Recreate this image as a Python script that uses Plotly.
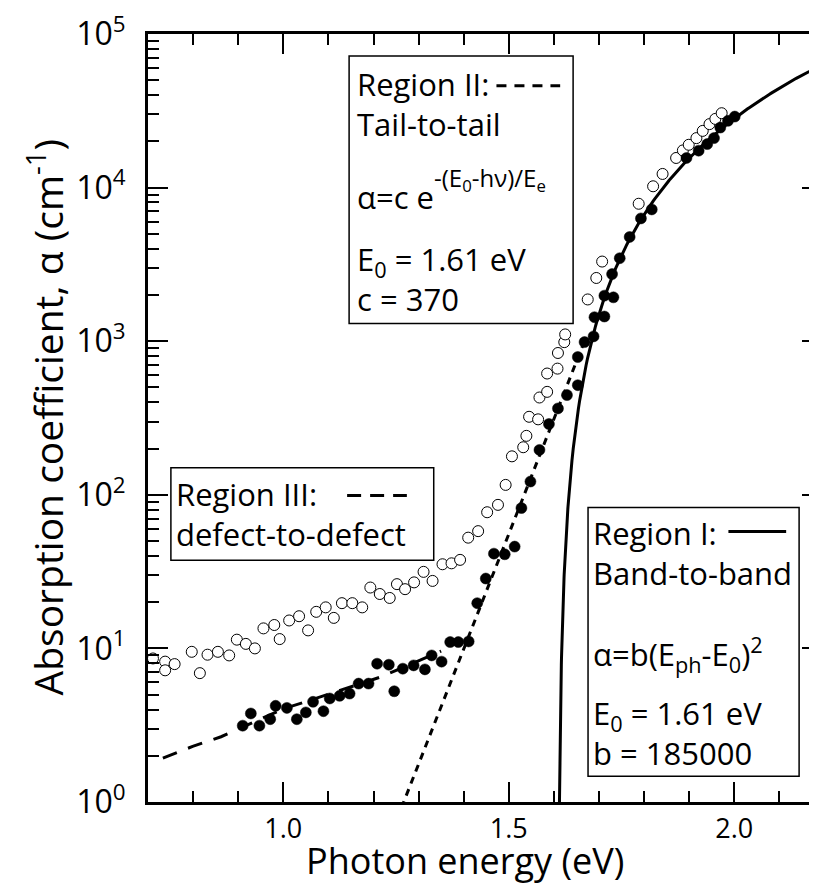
import numpy as np
import plotly.graph_objects as go

# ---------------- data ----------------
open_energy = [0.711, 0.738, 0.738, 0.759, 0.797, 0.815, 0.832, 0.855, 0.880, 0.897,
               0.917, 0.937, 0.956, 0.980, 0.992, 1.013, 1.035, 1.055, 1.073, 1.094,
               1.112, 1.130, 1.153, 1.175, 1.193, 1.214, 1.236, 1.252, 1.270, 1.290,
               1.311, 1.331, 1.353, 1.373, 1.392, 1.410, 1.432, 1.452, 1.476, 1.493,
               1.507, 1.532, 1.539, 1.545, 1.565, 1.568, 1.585, 1.585, 1.608, 1.609,
               1.623, 1.625, 1.675, 1.694, 1.707, 1.788, 1.820, 1.841, 1.871, 1.886,
               1.899, 1.916, 1.930, 1.945, 1.958, 1.972]
open_alpha = [8.6, 8.2, 7.2, 7.9, 9.5, 6.9, 9.1, 9.5, 9.0, 11.4,
              10.7, 10.0, 13.5, 14.2, 11.5, 15.2, 16.2, 13.1, 17.3, 18.5,
              15.8, 19.7, 19.7, 18.5, 24.9, 22.6, 21.3, 26.2, 24.3, 26.9,
              31.5, 27.5, 35.3, 35.8, 37.7, 52.6, 58, 77, 86, 116,
              178, 204, 242, 322, 310, 430, 468, 616, 663, 838,
              986, 1107, 1870, 2580, 3300, 7850, 10200, 12270, 15590, 17460,
              19000, 21000, 23400, 25900, 28000, 30500]

filled_energy = [0.910, 0.928, 0.947, 0.971, 0.983, 1.008, 1.030, 1.050, 1.066, 1.089,
                 1.103, 1.125, 1.147, 1.167, 1.189, 1.208, 1.234, 1.246, 1.265, 1.289,
                 1.314, 1.329, 1.351, 1.370, 1.388, 1.411, 1.430, 1.449, 1.467, 1.491,
                 1.513, 1.528, 1.548, 1.568, 1.589, 1.609, 1.629, 1.653, 1.653, 1.668,
                 1.688, 1.690, 1.712, 1.712, 1.732, 1.729, 1.746, 1.768, 1.793, 1.817,
                 1.894, 1.921, 1.940, 1.955, 1.969, 1.986, 2.001]
filled_alpha = [3.14, 3.77, 3.14, 3.46, 4.23, 4.10, 3.46, 3.83, 4.49, 3.90,
                4.72, 4.91, 5.08, 5.90, 5.90, 7.95, 7.83, 5.26, 7.38, 7.75,
                7.30, 9.0, 8.2, 11.0, 11.0, 11.1, 19.7, 28.5, 41.4, 41,
                46, 82, 122, 196, 289, 365, 446, 517, 789, 987,
                1075, 1433, 1448, 1980, 1930, 2735, 3470, 4770, 6300, 7210,
                15590, 17400, 19200, 21000, 24600, 27200, 29000]

# Region III (defect-to-defect) dashed guide
defect_energy = [0.733, 0.799, 0.862, 1.002, 1.060, 1.127, 1.215, 1.350]
defect_alpha = [1.93, 2.30, 2.66, 4.06, 4.60, 5.34, 6.50, 9.6]

# model parameters printed on the chart
E0 = 1.61
b_coef = 185000.0
c_coef = 370.0
Ee = 0.058

x_tick_vals = [1.0, 1.5, 2.0]
x_tick_text = ["1.0", "1.5", "2.0"]
y_tick_vals = [1, 10, 100, 1000, 10000, 100000]
y_tick_text = ["10<sup>%d</sup>" % k for k in range(6)]
x_title = "Photon energy (eV)"
y_title = "Absorption coefficient, α (cm<sup>-1</sup>)"

# ---------------- model curves ----------------
E_band = E0 + np.concatenate([np.linspace(0.0023, 0.03, 80), np.linspace(0.03, 0.6, 200)])
alpha_band = b_coef * (E_band - E0) ** 2
E_tail = np.linspace(1.262, 1.67, 120)
alpha_tail = c_coef * np.exp(-(E0 - E_tail) / Ee)

# ---------------- layout geometry ----------------
W, H = 817, 887
L, R, T, B = 140, 0, 22, 93
PW, PH = W - L - R, H - T - B
FONT = "Open Sans"
BOX_FONT = 31


def px(xp):
    return (xp - L) / PW


def py(yp):
    return (H - B - yp) / PH


fig = go.Figure()
fig.add_trace(go.Scatter(x=E_band, y=alpha_band, mode="lines",
                         line=dict(color="black", width=3), showlegend=False))
fig.add_trace(go.Scatter(x=E_tail, y=alpha_tail, mode="lines",
                         line=dict(color="black", width=3, dash="7px,6px"), showlegend=False))
fig.add_trace(go.Scatter(x=defect_energy, y=defect_alpha, mode="lines",
                         line=dict(color="black", width=3, dash="15px,12px"), showlegend=False))
fig.add_trace(go.Scatter(x=open_energy, y=open_alpha, mode="markers",
                         marker=dict(symbol="circle", size=11, color="white",
                                     line=dict(color="black", width=1)), showlegend=False))
fig.add_trace(go.Scatter(x=filled_energy, y=filled_alpha, mode="markers",
                         marker=dict(symbol="circle", size=11, color="black",
                                     line=dict(color="black", width=0.5)), showlegend=False))

shapes = []
annotations = []


def box(x0, y0, x1, y1):
    shapes.append(dict(type="rect", xref="paper", yref="paper",
                       x0=px(x0), x1=px(x1), y0=py(y1), y1=py(y0),
                       line=dict(color="black", width=1.5), fillcolor="white", layer="above"))


def sample(x0, x1, y, dash):
    shapes.append(dict(type="line", xref="paper", yref="paper",
                       x0=px(x0), x1=px(x1), y0=py(y), y1=py(y),
                       line=dict(color="black", width=3, dash=dash), layer="above"))


def text(x, y, s, size=BOX_FONT, xanchor="left", angle=0):
    annotations.append(dict(xref="paper", yref="paper", x=px(x), y=py(y), text=s,
                            showarrow=False, xanchor=xanchor, yanchor="middle",
                            align="left", textangle=angle,
                            font=dict(family=FONT, size=size, color="black")))


# Region II box
box(342, 44, 567, 313)
text(348, 92, "Region II:<br>Tail-to-tail")
sample(490, 554, 74, "10px,8px")
text(348, 186, "α=c e")
text(425, 168, "-(E<sub>0</sub>-hν)/E<sub>e</sub>", size=24)
text(348, 268, "E<sub>0</sub> = 1.61 eV<br>c = 370")

# Region III box
box(163, 458, 427, 551)
text(166, 505, "Region III:<br>defect-to-defect")
sample(340, 400, 486, "14px,9px")

# Region I box
box(582, 498, 794, 768)
text(585, 544, "Region I:<br>Band-to-band")
sample(723, 781, 522, "solid")
text(585, 646, "α=b(E<sub>ph</sub>-E<sub>0</sub>)<sup>2</sup>")
text(585, 725, "E<sub>0</sub> = 1.61 eV<br>b = 185000")

# axis titles
text(458, 853, x_title, size=36, xanchor="center")
text(37, 407, y_title, size=39, xanchor="center", angle=-90)

fig.update_layout(
    width=W, height=H,
    margin=dict(l=L, r=R, t=T, b=B, pad=0),
    paper_bgcolor="white", plot_bgcolor="white",
    font=dict(family=FONT, color="black"),
    shapes=shapes, annotations=annotations,
    xaxis=dict(range=[0.7, 0.7 + PW / 453.0], showgrid=False, zeroline=False,
               showline=True, linecolor="black", linewidth=3, mirror="ticks",
               ticks="inside", ticklen=20, tickwidth=1.8, tickcolor="black",
               tickvals=x_tick_vals, ticktext=x_tick_text,
               ticklabelstandoff=1,
               tickfont=dict(family=FONT, size=27, color="black"),
               minor=dict(ticks="inside", ticklen=11, tickwidth=1.8, tickcolor="black",
                          dtick=0.1, tick0=0.0, showgrid=False)),
    yaxis=dict(type="log", range=[0, 5], showgrid=False, zeroline=False,
               showline=True, linecolor="black", linewidth=3, mirror="ticks",
               ticks="inside", ticklen=20, tickwidth=1.8, tickcolor="black",
               tickvals=y_tick_vals, ticktext=y_tick_text,
               ticklabeloverflow="allow", ticklabelstandoff=13,
               tickfont=dict(family=FONT, size=32, color="black"),
               minor=dict(ticks="inside", ticklen=11, tickwidth=1.8, tickcolor="black",
                          tickvals=[m * 10 ** k for k in range(5) for m in range(2, 10)],
                          showgrid=False)),
)

fig.write_html("out.html")
